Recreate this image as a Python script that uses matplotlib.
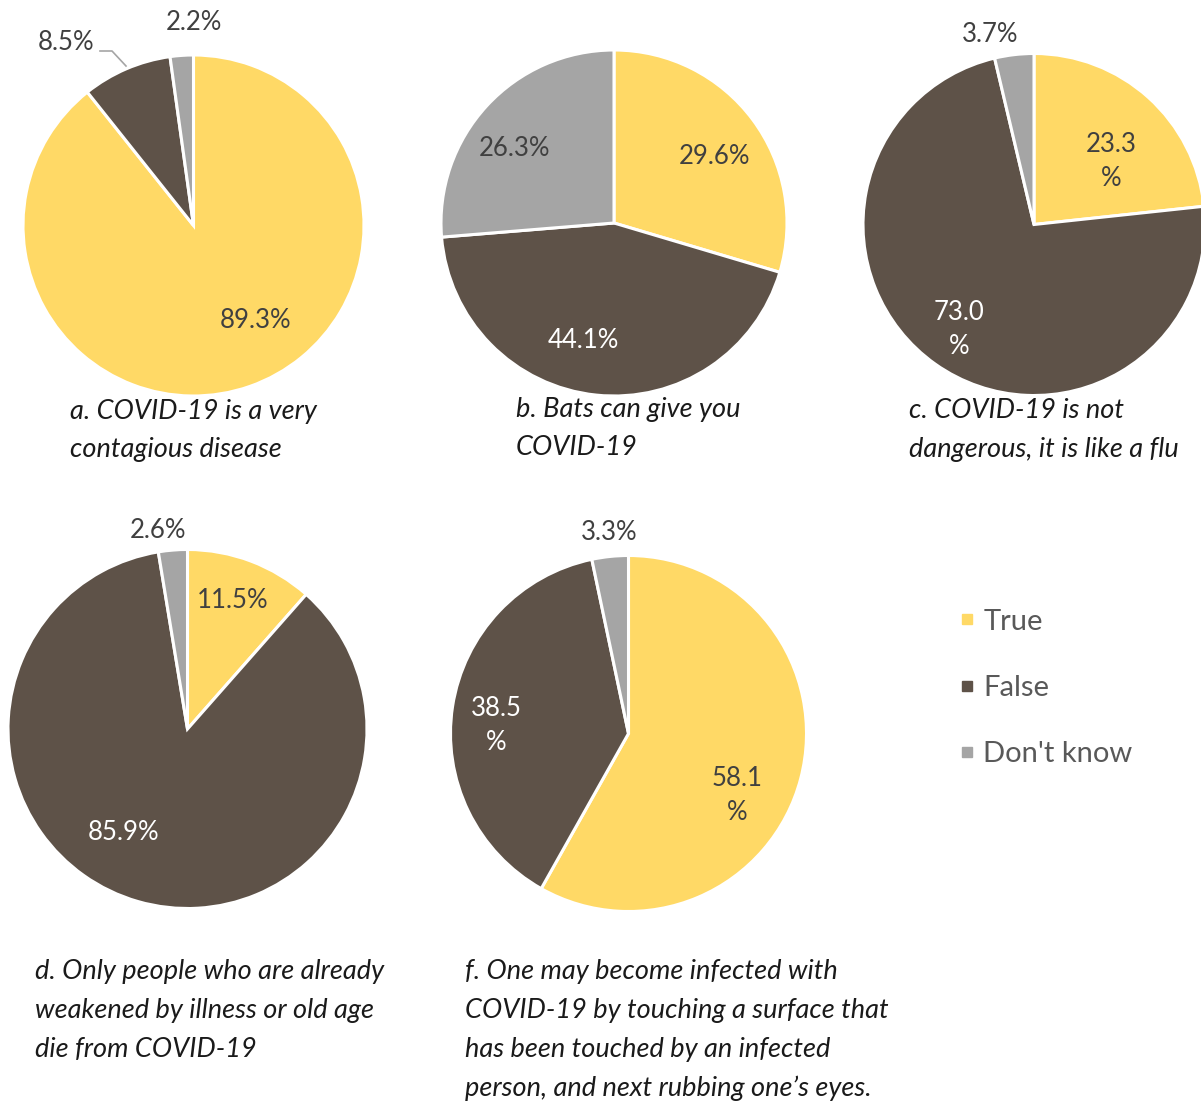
import matplotlib.pyplot as plt
from matplotlib.lines import Line2D

plt.rcParams['font.family'] = ['Lato', 'DejaVu Sans']

W, H = 1201, 1103

categories = ["True", "False", "Don't know"]
colors = ["#FFD966", "#5E5248", "#A5A5A5"]
label_colors = ["#404040", "white", "#404040"]

vals_a = [89.3, 8.5, 2.2]
vals_b = [29.6, 44.1, 26.3]
vals_c = [23.3, 73.0, 3.7]
vals_d = [11.5, 85.9, 2.6]
vals_f = [58.1, 38.5, 3.3]

captions = {
    'a': ["a. COVID-19 is a very", "contagious disease"],
    'b': ["b. Bats can give you", "COVID-19"],
    'c': ["c. COVID-19 is not", "dangerous, it is like a flu"],
    'd': ["d. Only people who are already", "weakened by illness or old age",
          "die from COVID-19"],
    'f': ["f. One may become infected with", "COVID-19 by touching a surface that",
          "has been touched by an infected", "person, and next rubbing one\u2019s eyes."],
}

# layout in pixels (y measured from the top)
pies = [
    dict(key='a', vals=vals_a, c=(193.5, 225.5), r=170.5,
         lab=[(256, 321), (66, 42), (194, 22)], wrap=[0, 0, 0],
         cap=(70, 411)),
    dict(key='b', vals=vals_b, c=(614, 223), r=173,
         lab=[(715, 157), (583, 341), (515, 149)], wrap=[0, 0, 0],
         cap=(516, 409)),
    dict(key='c', vals=vals_c, c=(1034, 224.5), r=171,
         lab=[(1111, 161), (959, 329), (990, 34)], wrap=[1, 1, 0],
         cap=(909, 411)),
    dict(key='d', vals=vals_d, c=(187.5, 729), r=179.5,
         lab=[(233, 600), (124, 832), (158, 530)], wrap=[0, 0, 0],
         cap=(35, 972)),
    dict(key='f', vals=vals_f, c=(628.5, 733.5), r=178,
         lab=[(737, 795), (496, 725), (609, 533)], wrap=[1, 1, 0],
         cap=(465, 972)),
]

fig = plt.figure(figsize=(W / 100, H / 100), dpi=100)
ax = fig.add_axes([0, 0, 1, 1])

for p in pies:
    cx, cy = p['c']
    ax.pie(p['vals'], colors=colors, startangle=90, counterclock=False,
           center=(cx, H - cy), radius=p['r'],
           wedgeprops=dict(edgecolor='white', linewidth=2.2))
    for v, (lx, ly), wr, lc in zip(p['vals'], p['lab'], p['wrap'], label_colors):
        s = f"{v:.1f}\n%" if wr else f"{v:.1f}%"
        # the small grey slices carry their label outside the pie
        col = lc if (lx - cx) ** 2 + (ly - cy) ** 2 < p['r'] ** 2 else "#404040"
        ax.text(lx, H - ly, s, ha='center', va='center', fontsize=18.5,
                color=col, linespacing=1.45)
    x0, y0 = p['cap']
    for i, line in enumerate(captions[p['key']]):
        ax.text(x0, H - (y0 + i * 38.8), line, ha='left', va='center',
                fontsize=19.5, style='italic', color='#1a1a1a')

# leader line for the small False slice in chart a
ax.plot([100, 112, 126], [H - 51, H - 51, H - 66], color='#A5A5A5', lw=1.2)

handles = [Line2D([], [], marker='s', ls='none', markersize=7,
                  markerfacecolor=c, markeredgecolor=c) for c in colors]
ax.legend(handles, categories, loc='upper left', bbox_to_anchor=(947 / W, 1 - 597 / H),
          frameon=False, fontsize=21, labelcolor='#595959', handletextpad=0.25,
          labelspacing=1.38, handlelength=0.6, borderaxespad=0)

ax.set_xlim(0, W)
ax.set_ylim(0, H)
ax.set_aspect('auto')
ax.axis('off')

fig.savefig('out.png', dpi=100)
